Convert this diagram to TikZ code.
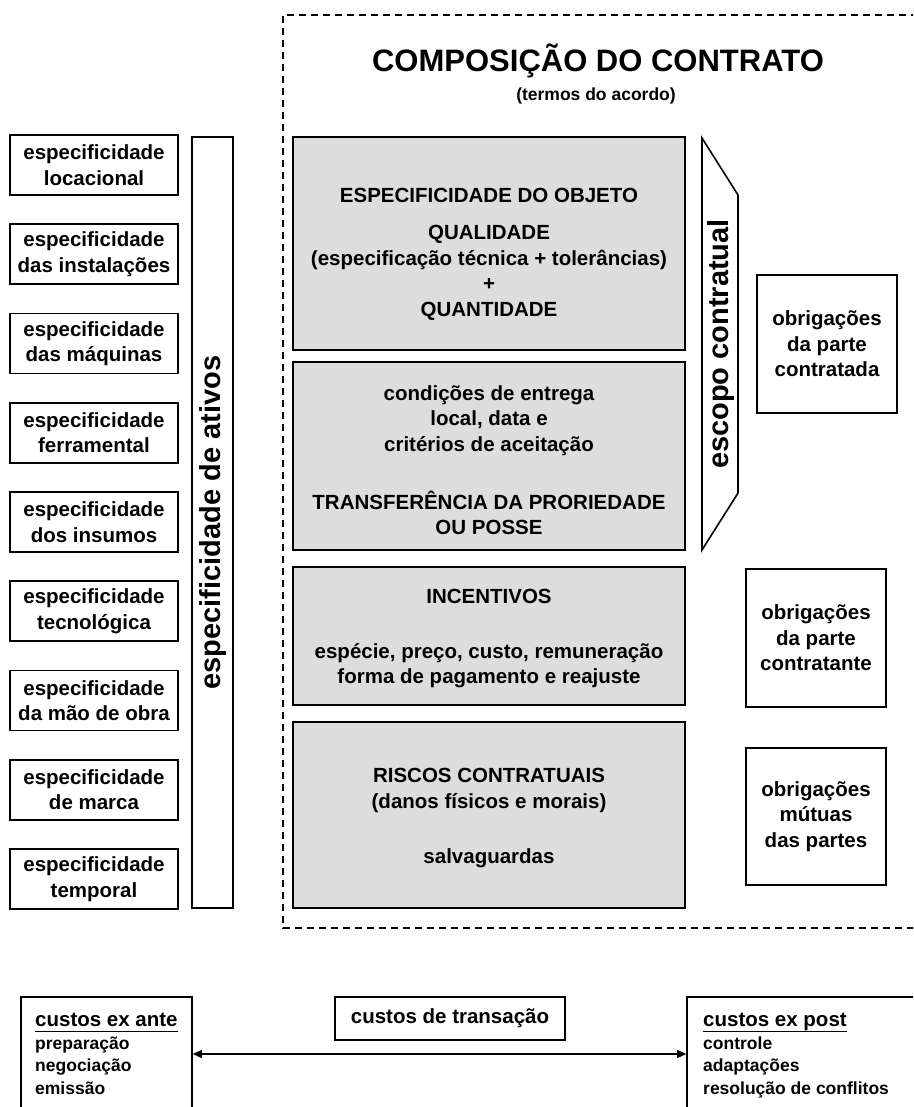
\documentclass[tikz,border=0pt]{standalone}
\usepackage{fontspec}
\setmainfont{Liberation Sans}
\usetikzlibrary{arrows.meta,calc}
\definecolor{boxgray}{HTML}{DDDDDD}
% underline drawn as a thick bar under the word
\newcommand\ulbar[1]{\setbox0\hbox{#1}\rlap{\rule[-5.8pt]{\wd0}{1.8pt}}\box0}

\begin{document}
\begin{tikzpicture}[x=1pt,y=-1pt,
  every node/.style={font=\bfseries},
  body/.style={font=\fontsize{20.5}{25.5}\selectfont\bfseries},
  box/.style={draw, line width=1.6pt, inner sep=0pt, align=center, body},
  specbox/.style={box, minimum width=168pt, minimum height=60pt},
  graybox/.style={box, fill=boxgray, minimum width=392pt},
  obrigbox/.style={box, minimum width=140pt, minimum height=138pt},
  txt/.style={body, align=center, anchor=north, inner sep=0pt},
  vlabel/.style={rotate=90, inner sep=0pt, font=\fontsize{29}{32}\selectfont\bfseries},
  costtxt/.style={anchor=north west, inner sep=0pt, align=left,
    font=\fontsize{17.5}{22.5}\selectfont\bfseries},
  tip/.style={line width=1.3pt, {Triangle[length=9pt,width=8pt]}-{Triangle[length=9pt,width=8pt]}}
]
\useasboundingbox (0,0) rectangle (913,1107);
\clip (0,0) rectangle (913,1107);
\fill[white] (0,0) rectangle (913,1107);

% contract frame
\draw[line width=1.4pt, dash pattern=on 7pt off 5pt] (930,15) -- (283,15) -- (283,928) -- (930,928);

% title
\node[anchor=base, font=\fontsize{31}{36}\selectfont\bfseries] (title) at (598,72) {COMPOSIÇÃO DO CONTRATO};
\node[anchor=base, font=\fontsize{17.5}{20}\selectfont\bfseries] (subtitle) at (596,101) {(termos do acordo)};

% asset specificity boxes
\foreach \i/\t [count=\k from 0] in {1/locacional, 2/das instalações, 3/das máquinas,
    4/ferramental, 5/dos insumos, 6/tecnológica, 7/da mão de obra, 8/de marca, 9/temporal}
  \node[specbox] (spec\i) at (94,165+89.25*\k) {especificidade\\\t};

\node[box, rotate=90, minimum width=771pt, minimum height=41pt,
  font=\fontsize{29}{32}\selectfont\bfseries] (ativos) at (212.5,522.5) {especificidade de ativos};

% contract terms
\node[graybox, minimum height=213pt] (objeto) at (489,243.5) {};
\node[txt] (objetotxt) at (489,188) {ESPECIFICIDADE DO OBJETO\\[11.8pt]QUALIDADE\\(especificação técnica + tolerâncias)\\+\\QUANTIDADE};

\node[graybox, minimum height=188pt] (entrega) at (489,456) {};
\node[txt] (entregatxt) at (489,385) {condições de entrega\\local, data e\\critérios de aceitação\\[32.5pt]TRANSFERÊNCIA DA PRORIEDADE\\OU POSSE};

\node[graybox, minimum height=138pt] (incentivos) at (489,636) {};
\node[txt] (incentivostxt) at (489,589.3) {INCENTIVOS\\[29pt]espécie, preço, custo, remuneração\\forma de pagamento e reajuste};

\node[graybox, minimum height=186pt] (riscos) at (489,815) {};
\node[txt] (riscostxt) at (489,768.3) {RISCOS CONTRATUAIS\\(danos físicos e morais)\\[29.5pt]salvaguardas};

% contractual scope
\draw[line width=1.6pt] (702,138) -- (738,195) -- (738,493) -- (702,550) -- cycle;
\node[vlabel] (escopo) at (721,344) {escopo contratual};

% obligations
\node[obrigbox] (contratada) at (827,344) {obrigações\\da parte\\contratada};
\node[obrigbox] (contratante) at (816,638) {obrigações\\da parte\\contratante};
\node[obrigbox, minimum height=137pt] (mutuas) at (816,816.5) {obrigações\\mútuas\\das partes};

% transaction costs
\node[draw, line width=1.6pt, minimum width=171pt, minimum height=114pt] (exante) at (106.5,1054) {};
\node[costtxt] (exantetxt) at (35,1013) {{\fontsize{20.5}{22.5}\selectfont\ulbar{custos ex ante}}\\preparação\\negociação\\emissão};

\node[draw, line width=1.6pt, minimum width=253pt, minimum height=114pt] (expost) at (813.5,1054) {};
\node[costtxt] (exposttxt) at (703,1013) {{\fontsize{20.5}{22.5}\selectfont\ulbar{custos ex post}}\\controle\\adaptações\\resolução de conflitos};

\node[box, minimum width=230pt, minimum height=43pt] (transacao) at (450,1018.5) {custos de transação};

\draw[tip] (exante) -- (expost);
\end{tikzpicture}
\end{document}
